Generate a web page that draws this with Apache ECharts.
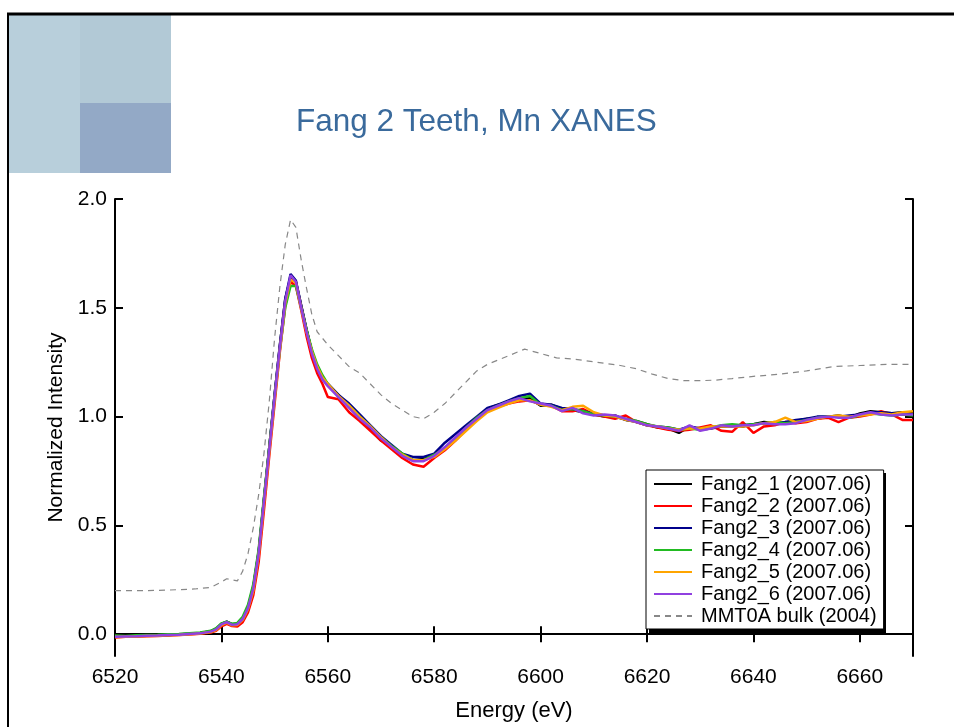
<!DOCTYPE html>
<html>
<head>
<meta charset="utf-8">
<script src="https://cdn.jsdelivr.net/npm/echarts@6/dist/echarts.min.js"></script>
<style>
html,body{margin:0;padding:0;background:#fff;}
#chart{width:954px;height:727px;}
</style>
</head>
<body>
<div id="chart"></div>
<script>
// Energy grid (eV) shared by the Fang2 scans
const energy = [6520,6522,6524,6526,6528,6530,6532,6534,6536,6538,
  6539,6540,6541,6542,6543,6544,6545,6546,6547,6548,6549,6550,6551,6552,6553,6554,6555,6556,6557,6558,6559,6560,
  6562,6564,6566,6568,6570,6572,6574,6576,6578,6580,6582,6584,6586,6588,6590,6592,6594,6596,6598,
  6600,6602,6604,6606,6608,6610,6612,6614,6616,6618,6620,6622,6624,6626,6628,6630,6632,6634,6636,6638,
  6640,6642,6644,6646,6648,6650,6652,6654,6656,6658,6660,6662,6664,6666,6668,6670];

const fang2_1 = [-0.008,-0.009,-0.006,-0.006,-0.004,-0.003,0.000,0.002,0.006,0.014,
  0.024,0.048,0.058,0.046,0.048,0.073,0.125,0.22,0.38,0.62,0.86,1.10,1.33,1.54,1.64,1.62,1.51,1.40,1.30,1.23,1.18,1.15,
  1.10,1.05,1.00,0.94,0.89,0.86,0.82,0.80,0.805,0.82,0.85,0.90,0.955,0.99,1.035,1.055,1.065,1.08,1.085,
  1.05,1.055,1.035,1.03,1.02,1.01,1.00,1.005,0.985,0.98,0.965,0.95,0.945,0.925,0.955,0.94,0.945,0.955,0.96,0.955,
  0.965,0.975,0.97,0.97,0.98,0.99,0.99,1.0,1.005,0.995,1.015,1.025,1.02,1.015,1.02,1.015];

const fang2_2 = [-0.015,-0.012,-0.011,-0.009,-0.008,-0.006,-0.004,-0.001,0.002,0.008,
  0.016,0.036,0.048,0.038,0.036,0.055,0.10,0.18,0.33,0.57,0.82,1.06,1.30,1.51,1.62,1.60,1.49,1.37,1.27,1.20,1.15,1.09,
  1.08,1.02,0.98,0.935,0.89,0.85,0.81,0.78,0.77,0.81,0.845,0.89,0.94,0.985,1.025,1.045,1.06,1.07,1.075,
  1.055,1.05,1.025,1.025,1.035,1.01,1.0,0.99,1.005,0.975,0.96,0.95,0.94,0.935,0.94,0.95,0.96,0.935,0.93,0.975,
  0.925,0.955,0.96,0.975,0.97,0.975,0.99,0.995,0.975,0.995,1.0,1.01,1.025,1.01,0.985,0.985];

const fang2_3 = [-0.010,-0.011,-0.008,-0.006,-0.005,-0.003,-0.001,0.002,0.005,0.013,
  0.023,0.047,0.057,0.044,0.047,0.072,0.123,0.215,0.375,0.62,0.86,1.10,1.33,1.54,1.655,1.625,1.51,1.40,1.30,1.23,1.18,1.15,
  1.10,1.06,1.01,0.96,0.91,0.87,0.83,0.815,0.815,0.83,0.88,0.92,0.96,1.0,1.04,1.055,1.075,1.095,1.105,
  1.06,1.055,1.04,1.035,1.025,1.015,1.005,1.0,0.985,0.975,0.96,0.955,0.95,0.94,0.955,0.945,0.95,0.955,0.955,0.96,
  0.965,0.97,0.97,0.975,0.985,0.99,1.0,1.0,1.0,1.005,1.01,1.02,1.02,1.015,1.01,1.01];

const fang2_4 = [-0.006,-0.008,-0.005,-0.003,-0.002,0.000,0.001,0.004,0.008,0.016,
  0.028,0.05,0.058,0.048,0.052,0.08,0.135,0.23,0.39,0.63,0.86,1.09,1.31,1.50,1.60,1.60,1.50,1.40,1.31,1.24,1.19,1.15,
  1.09,1.05,1.00,0.955,0.905,0.865,0.83,0.80,0.80,0.825,0.855,0.90,0.95,0.995,1.03,1.05,1.07,1.085,1.095,
  1.055,1.05,1.03,1.035,1.025,1.01,1.005,1.0,0.99,0.98,0.965,0.955,0.95,0.94,0.945,0.94,0.95,0.96,0.965,0.96,
  0.965,0.97,0.975,0.97,0.975,0.985,0.995,1.0,1.0,0.995,1.005,1.015,1.01,1.005,1.01,1.005];

const fang2_5 = [-0.013,-0.011,-0.010,-0.008,-0.007,-0.005,-0.003,0.000,0.003,0.010,
  0.019,0.042,0.053,0.041,0.043,0.066,0.115,0.20,0.36,0.60,0.84,1.08,1.31,1.52,1.63,1.615,1.50,1.39,1.30,1.23,1.18,1.15,
  1.095,1.05,1.00,0.955,0.905,0.86,0.825,0.80,0.80,0.815,0.85,0.89,0.935,0.98,1.02,1.04,1.06,1.075,1.075,
  1.055,1.045,1.03,1.045,1.05,1.02,1.005,1.0,0.985,0.975,0.96,0.955,0.945,0.94,0.945,0.945,0.955,0.955,0.955,0.955,
  0.96,0.97,0.975,0.995,0.975,0.98,0.99,1.0,1.005,1.0,1.005,1.01,1.015,1.01,1.02,1.025];

const fang2_6 = [-0.012,-0.010,-0.009,-0.007,-0.006,-0.004,-0.002,0.001,0.004,0.012,
  0.022,0.045,0.056,0.043,0.046,0.07,0.12,0.21,0.37,0.61,0.85,1.09,1.32,1.53,1.65,1.62,1.50,1.39,1.29,1.22,1.17,1.14,
  1.09,1.04,0.99,0.95,0.90,0.86,0.82,0.795,0.795,0.82,0.86,0.905,0.95,0.99,1.03,1.05,1.07,1.085,1.07,
  1.06,1.05,1.025,1.04,1.015,1.005,1.01,1.005,0.99,0.975,0.96,0.955,0.945,0.935,0.96,0.935,0.945,0.96,0.955,0.96,
  0.96,0.97,0.965,0.965,0.97,0.985,0.995,1.0,0.995,0.995,1.01,1.02,1.01,1.005,1.01,1.01];

// MMT0A bulk reference (own energy grid)
const mmtEnergy = [6520,6525,6530,6535,6538,6540,6541,6542,6543,6544,6545,6546,6547,6548,6549,6550,6551,6552,6553,6554,
  6555,6556,6557,6558,6560,6562,6564,6566,6568,6570,6572,6574,6576,6578,6580,6582,6584,6586,6588,6590,6592,6594,6596,6597,
  6600,6603,6606,6609,6612,6615,6618,6621,6624,6627,6630,6633,6636,6640,6645,6650,6655,6660,6665,6670];
const mmt0a = [0.200,0.200,0.203,0.208,0.215,0.24,0.255,0.25,0.245,0.29,0.37,0.49,0.64,0.83,1.07,1.36,1.60,1.79,1.905,1.87,
  1.72,1.59,1.47,1.39,1.33,1.28,1.23,1.20,1.15,1.10,1.06,1.03,1.00,0.99,1.02,1.06,1.11,1.16,1.21,1.24,1.26,1.28,1.30,1.31,
  1.29,1.27,1.265,1.255,1.245,1.235,1.22,1.195,1.175,1.165,1.165,1.168,1.175,1.185,1.195,1.21,1.23,1.235,1.24,1.24];

const seriesNames = ['Fang2_1 (2007.06)','Fang2_2 (2007.06)','Fang2_3 (2007.06)','Fang2_4 (2007.06)','Fang2_5 (2007.06)','Fang2_6 (2007.06)'];
const seriesColors = ['#000000','#ff0000','#00008b','#22bb22','#ffa500','#9040e0'];
const fangData = [fang2_1,fang2_2,fang2_3,fang2_4,fang2_5,fang2_6];
const refName = 'MMT0A bulk (2004)';

const xTicks = {min:6520, max:6670, interval:20};
const yTicks = [0.0,0.5,1.0,1.5,2.0];

const FONT = '"Liberation Sans", Arial, sans-serif';
const chart = echarts.init(document.getElementById('chart'), null, {renderer:'canvas'});

const series = fangData.map((arr, k) => ({
  name: seriesNames[k], type:'line', symbol:'none', animation:false,
  data: energy.map((e,i) => [e, arr[i]]),
  lineStyle:{color:seriesColors[k], width:2.5},
  itemStyle:{color:seriesColors[k]},
  z: 3 + k
}));
series.push({
  name: refName, type:'line', symbol:'none', animation:false,
  data: mmtEnergy.map((e,i) => [e, mmt0a[i]]),
  lineStyle:{color:'#888888', width:1.2, type:[6,5]},
  itemStyle:{color:'#888888'},
  z: 2
});

const axisLine = {show:true, lineStyle:{color:'#000', width:2}};
const axisTick = {show:true, inside:true, length:8, lineStyle:{color:'#000', width:2}};

chart.setOption({
  animation:false,
  backgroundColor:'#ffffff',
  title:{
    text:'Fang 2 Teeth, Mn XANES',
    left:291, top:101,
    textStyle:{color:'#3a6a9c', fontSize:31.5, fontWeight:'normal', fontFamily:FONT}
  },
  graphic:[
    {type:'rect', shape:{x:8, y:15, width:72, height:158}, style:{fill:'#b8cfdb'}, silent:true},
    {type:'rect', shape:{x:80, y:15, width:91, height:88}, style:{fill:'#b2c9d6'}, silent:true},
    {type:'rect', shape:{x:80, y:103, width:91, height:70}, style:{fill:'#93a9c6'}, silent:true},
    {type:'line', shape:{x1:7, y1:14, x2:954, y2:14}, style:{stroke:'#000', lineWidth:3}, silent:true},
    {type:'line', shape:{x1:8, y1:13, x2:8, y2:727}, style:{stroke:'#000', lineWidth:2}, silent:true},
    // legend drop shadow
    {type:'rect', shape:{x:649, y:473, width:237, height:160}, style:{fill:'#000'}, silent:true, z:1}
  ],
  grid:{left:115, right:41, top:199, bottom:66, containLabel:false},
  legend:{
    orient:'vertical', left:646, top:470, z:20,
    data:[...seriesNames, refName],
    itemWidth:38, itemHeight:14, itemGap:0,
    padding:[3,7,2,7],
    backgroundColor:'#ffffff', borderColor:'#000', borderWidth:1,
    itemStyle:{color:'rgba(0,0,0,0)', borderColor:'rgba(0,0,0,0)', borderWidth:0},
    lineStyle:{width:2},
    textStyle:{color:'#000', fontSize:20, fontFamily:FONT, lineHeight:22, padding:[0,0,0,4]}
  },
  xAxis:[
    {type:'value', min:xTicks.min, max:xTicks.max, interval:xTicks.interval,
     name:'Energy (eV)', nameLocation:'middle', nameGap:44,
     nameTextStyle:{color:'#000', fontSize:22, fontFamily:FONT},
     axisLine:axisLine, axisTick:axisTick, splitLine:{show:false},
     axisLabel:{color:'#000', fontSize:21, fontFamily:FONT, margin:11, showMaxLabel:false,
       formatter:v => String(v)}},
    {type:'value', position:'top', min:xTicks.min, max:xTicks.max, interval:xTicks.interval,
     axisLine:axisLine, axisTick:axisTick, splitLine:{show:false}, axisLabel:{show:false}}
  ],
  yAxis:[
    {type:'value', min:-0.1, max:2.0,
     name:'Normalized Intensity', nameLocation:'middle', nameGap:40,
     nameTextStyle:{color:'#000', fontSize:21, fontFamily:FONT},
     axisLine:axisLine,
     axisTick:Object.assign({}, axisTick, {customValues:yTicks}),
     splitLine:{show:false},
     axisLabel:{color:'#000', fontSize:21, fontFamily:FONT, margin:8, customValues:yTicks,
       formatter:v => Number(v).toFixed(1)}},
    {type:'value', position:'right', min:-0.1, max:2.0,
     axisLine:axisLine,
     axisTick:Object.assign({}, axisTick, {customValues:yTicks}),
     splitLine:{show:false}, axisLabel:{show:false}}
  ],
  series: series
});
</script>
</body>
</html>
